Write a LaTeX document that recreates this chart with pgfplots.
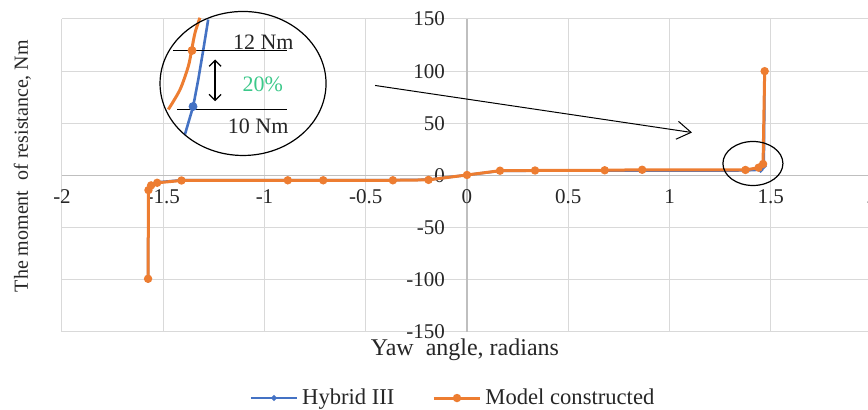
\documentclass[border=0pt]{standalone}
\usepackage{pgfplots}
\pgfplotsset{compat=1.18}
\usepackage{fontspec}
\setmainfont{Liberation Serif}
\usetikzlibrary{calc,arrows.meta}
\definecolor{cOr}{HTML}{ED7D31}
\definecolor{cBl}{HTML}{4472C4}
\definecolor{cGr}{HTML}{3CC88A}
\definecolor{cGrid}{HTML}{D9D9D9}
\definecolor{cAx}{HTML}{BFBFBF}
\definecolor{cTxt}{HTML}{262626}
\begin{document}
\begin{tikzpicture}
\begin{axis}[
  scale only axis, width=405pt, height=156.5pt,
  xmin=-2, xmax=2, ymin=-150, ymax=150,
  axis lines=middle,
  axis line style={draw=cAx, line width=0.6pt, -},
  every inner x axis line/.append style={-},
  every inner y axis line/.append style={-},
  xtick={-2,-1.5,-1,-0.5,0,0.5,1,1.5,2},
  ytick={-150,-100,-50,0,50,100,150},
  hide obscured x ticks=false, hide obscured y ticks=false,
  major tick length=0pt,
  grid=major,
  major grid style={draw=cGrid, line width=0.5pt},
  /pgf/number format/assume math mode=true,
  x tick label style={font=\fontsize{10.5}{12}\selectfont, text=cTxt, yshift=-3.5pt},
  y tick label style={font=\fontsize{10.5}{12}\selectfont, text=cTxt, xshift=-7.5pt},
  clip=false,
  legend style={at={(axis description cs:0.484,-0.211)}, anchor=center, draw=none,
    font=\fontsize{11.3}{13}\selectfont, text=cTxt,
    /tikz/every even column/.append style={column sep=17pt}},
  legend columns=2,
  legend cell align=left,
  legend image code/.code={\draw[mark repeat=2, mark phase=2, #1] plot coordinates {(0pt,0pt) (11.5pt,0pt) (23pt,0pt)};},
]
\coordinate (sw) at (rel axis cs:0,0);
\coordinate (ne) at (rel axis cs:1,1);

% Hybrid III
\addplot[cBl, line width=1.25pt, mark=*, mark size=0.7pt] coordinates {
(-1.575,-100) (-1.573,-14) (-1.56,-9.5) (-1.53,-6.5) (-1.41,-4.5) (-0.885,-4.4)
(-0.71,-4.4) (-0.366,-4.4) (-0.19,-4) (0,0.5) (0.163,4.4) (0.336,4.6) (0.68,4.8)
(0.865,4.6) (1.375,4.8) (1.45,5.5) (1.466,9) (1.47,100)};
\addlegendentry{Hybrid III}

% Model constructed
\addplot[cOr, line width=1.5pt, mark=*, mark size=1.3pt] coordinates {
(-1.575,-99) (-1.573,-14) (-1.56,-9.5) (-1.53,-7) (-1.41,-4.8) (-0.885,-4.6)
(-0.71,-4.6) (-0.366,-4.6) (-0.19,-4.2) (0,0.5) (0.163,4.6) (0.336,4.8) (0.68,5)
(0.865,5.5) (1.375,5.3) (1.44,7.5) (1.462,11) (1.47,100)};
\addlegendentry{Model constructed}

% inset
\addplot[cOr, line width=1.5pt, smooth, forget plot] coordinates {
(-1.475,63.3) (-1.417,82.4) (-1.376,104.8) (-1.360,120.1) (-1.343,136.8) (-1.319,151.2)};
\addplot[cBl, line width=1.3pt, forget plot] coordinates {
(-1.393,39.3) (-1.352,66.4) (-1.327,92) (-1.302,120.8) (-1.278,149.5)};
\draw[black, line width=0.6pt] (axis cs:-1.452,119.8) -- (axis cs:-0.889,119.8);
\draw[black, line width=0.6pt] (axis cs:-1.432,63.3) -- (axis cs:-0.889,63.3);
\addplot[cOr, only marks, mark=*, mark size=2pt, forget plot] coordinates {(-1.358,119.8)};
\addplot[cBl, only marks, mark=*, mark size=2pt, forget plot] coordinates {(-1.353,66.1)};
\node[font=\fontsize{11}{13}\selectfont, text=cTxt] at (axis cs:-1.006,127.5) {12 Nm};
\node[font=\fontsize{11}{13}\selectfont, text=cTxt] at (axis cs:-1.031,47.3) {10 Nm};
\node[font=\fontsize{11}{13}\selectfont, text=cGr] at (axis cs:-1.009,87.2) {20\%};
\draw[{Straight Barb[length=3pt,width=6pt]}-{Straight Barb[length=3pt,width=6pt]}, line width=0.6pt]
  (axis cs:-1.244,111.2) -- (axis cs:-1.244,71.2);
\draw[line width=0.6pt] (axis cs:-1.106,88.2) ellipse [x radius=41.5pt, y radius=36pt];
\draw[-{Straight Barb[length=7pt,width=9pt]}, line width=0.5pt] (axis cs:-0.454,86.3) -- (axis cs:1.111,41.2);
\draw[line width=0.6pt] (axis cs:1.412,11.5) ellipse [x radius=15pt, y radius=11pt];

\node[rotate=90, font=\fontsize{10}{12}\selectfont, text=cTxt] at (axis description cs:-0.049,0.53) {The moment\ \ of resistance, Nm};
\node[font=\fontsize{12}{14}\selectfont, text=cTxt] at (axis description cs:0.4975,-0.058) {Yaw\ \ angle, radians};
\end{axis}
\pgfresetboundingbox
\path ($(sw)+(-31pt,-39pt)$) rectangle ($(ne)+(-2pt,9.5pt)$);
\end{tikzpicture}
\end{document}
